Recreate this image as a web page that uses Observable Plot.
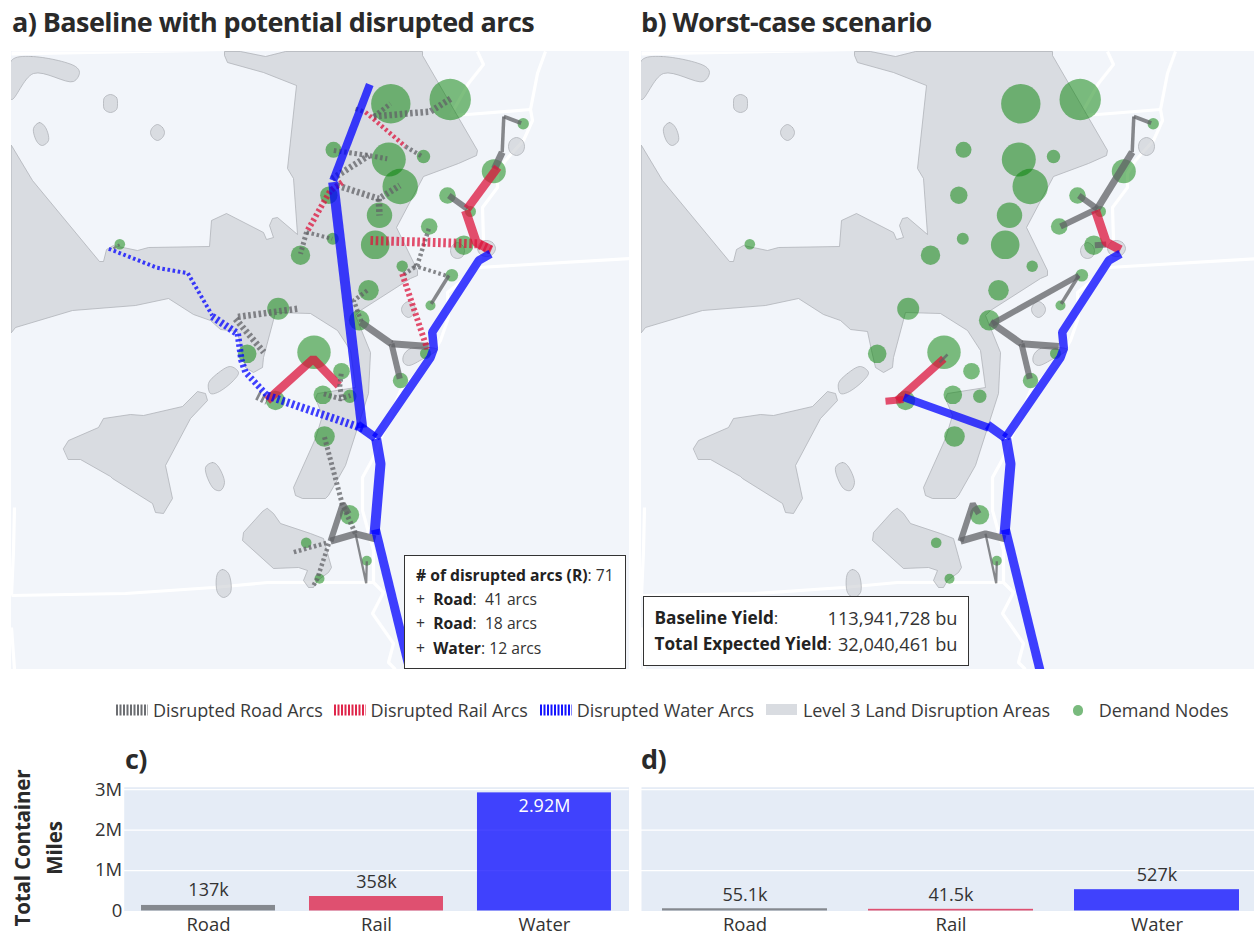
<!DOCTYPE html>
<html><head><meta charset="utf-8">
<script src="https://cdn.jsdelivr.net/npm/d3@7"></script>
<script src="https://cdn.jsdelivr.net/npm/@observablehq/plot@0.6"></script>
<style>
html,body{margin:0;padding:0;width:1254px;height:936px;overflow:hidden;background:#fff;font-family:"Open Sans",sans-serif;color:#2a2a2a}
.abs{position:absolute;white-space:nowrap}
.title{font-weight:700;font-size:27px;line-height:30px;letter-spacing:-.57px}
.leg{font-size:18px;line-height:20px;color:#3a3a3a;top:700px;letter-spacing:-.08px}
.box{background:#fff;border:1.4px solid #333;box-sizing:border-box}
.ln{position:absolute;font-size:15.7px;line-height:20px;white-space:nowrap;color:#333}
.ln b{color:#222}
.yl{font-weight:700;font-size:20.6px;line-height:24px;transform:translate(-50%,-50%) rotate(-90deg);letter-spacing:-.2px}
svg{display:block;max-width:none !important}
</style></head><body>
<script>
// ---------- map geometry (map units) ----------
const landMain=[[11,145],[32,180],[99,261],[103,261],[106,249],[113,245],[137,250],[148,247],[209,246],[211,220],[226,213],[263,232],[266,239],[273,237],[269,225],[272,218],[277,217],[297,234],[293,178],[287,168],[296,85],[263,72],[227,62],[224,55],[224,51],[240,51],[265,56],[285,51],[422,51],[422,55],[477,150],[476,155],[458,163],[423,176],[396,227],[417,270],[417,275],[410,278],[360,310],[355,315],[370,352],[368,393],[345,465],[328,495],[325,498],[302,498],[295,495],[293,487],[315,438],[322,415],[315,398],[317,393],[355,387],[350,350],[337,330],[310,313],[275,312],[263,357],[262,367],[253,372],[245,367],[241,350],[237,331],[220,329],[210,320],[193,314],[168,298],[135,305],[72,310],[15,327],[11,332]];
const landStripe=[[11,60],[31,56],[75,66],[79,72],[73,81],[33,73],[11,99]];
const landBay=[[63,448],[68,440],[98,427],[103,418],[130,414],[143,415],[182,406],[197,391],[205,393],[207,400],[190,418],[165,465],[172,498],[163,513],[155,512],[152,503],[112,478],[110,476],[80,459],[68,459]];
const landSouth=[[267,508],[273,513],[280,523],[310,533],[323,538],[331,567],[328,572],[317,580],[313,587],[308,587],[303,580],[307,570],[298,567],[273,568],[242,540],[243,532],[262,511]];
const landEast=[[403,355],[410,348],[437,349],[423,358],[408,365],[403,362]];
const lakes=[
 [[110,94],[116,97],[117,103],[116,109],[110,112],[104,109],[103,103],[104,97]],
 [[33,128],[39,122],[45,127],[48,140],[42,145],[37,142]],
 [[157,124],[162,127],[164,132],[162,137],[157,140],[152,137],[150,132],[152,127]],
 [[208,383],[217,373],[230,366],[238,372],[233,380],[217,392],[210,393]],
 [[205,467],[212,462],[217,465],[224,482],[220,490],[213,488]],
 [[217,573],[222,569],[228,573],[230,592],[223,597],[217,592]],
 [[516,137],[522,140],[524,146],[522,152],[516,155],[510,152],[508,146],[510,140]],
 [[457,242],[462,245],[464,250],[462,256],[457,258],[452,256],[450,250],[452,245]],
 [[486,240],[492,242],[495,248],[492,254],[486,256],[480,254],[477,248],[480,242]],
 [[408,301],[413,304],[415,309],[413,314],[408,317],[403,314],[401,309],[403,304]]
];
const borderLines=[
 [[477,51],[483,64],[468,83],[450,115]],
 [[450,115],[467,114],[530,109]],
 [[545,51],[537,73],[530,109],[532,120],[523,140],[505,160],[497,173],[497,187],[482,207],[483,240],[478,267]],
 [[478,267],[629,258]],
 [[478,267],[447,292],[448,317],[440,340],[430,357],[400,390],[373,457],[362,477],[362,510],[373,550],[373,582],[383,592],[372,613],[393,643],[388,662],[395,669]],
 [[11,595],[125,593],[213,587],[267,582],[373,582]],
 [[14,507],[13,550],[11,595]],
 [[11,627],[14,669]]
];
const topEdge=[[11,51],[224,51],[11,55]];
// ---------- demand nodes ----------
const nodeX=[390.3,449.7,522.7,493.3,333,388.3,423,399.7,328.3,447,470,379,428.7,332.3,374.7,463.3,401.7,451.3,430,368,358.7,425,119.3,300,277.7,246.7,313.5,275,341,322.3,349.3,324,400,349,366.3,319,305.7];
const nodeY=[103.3,99,123.3,170.7,149.3,159,156,186,194.7,195,211,214.7,226,238.3,244.3,244.7,265.7,274.7,305,289.7,319.7,353,243.7,254.7,308.3,353.3,351.7,400,370.7,394.3,395.7,436,380,514.3,560.3,578.3,542.3];
const nodeDemand=[19.7,20.7,5.7,12,8,17,6.7,17.7,8.7,8.3,5.5,12.7,8.3,6,14.3,9.7,5.7,6.3,5,10.3,10.3,5.5,5.3,9.7,11,9.3,16.7,9.7,8.3,9.3,6.7,10.3,7.7,9.7,5,5,5.3];
const nodes=nodeX.map((x,i)=>({x,y:nodeY[i],demand:nodeDemand[i]}));
// ---------- arcs: [mode, disrupted?, flow, path] ----------
const water5=["water",0,10,[[375.7,438.3],[380,463.3],[374,534]]];
const water6=["water",0,9,[[375,529],[411,676]]];
const water4=["water",0,8.5,[[375,437.3],[430,357],[433.3,348],[431.7,331.7],[478.3,260],[490,253.3]]];
const water3=["water",0,9,[[357,424.5],[375,437.3]]];
const road1=["road",0,4,[[503.3,116],[520.7,122.7]]];
const road2=["road",0,3.5,[[503.3,116],[501.7,151.7]]];
const road4=["road",0,6,[[448.3,195],[466.7,208.3]]];
const road5=["road",0,3.5,[[448.3,275],[430.7,303.3]]];
const road6=["road",0,7,[[360,321.7],[391,343.3]]];
const road7=["road",0,7,[[391,343.3],[428.3,346]]];
const road8=["road",0,6,[[391,343.3],[399.3,378.3]]];
const road9=["road",0,7,[[330,540.7],[355,533.3],[375,538.3]]];
const road10=["road",0,6,[[330,540.7],[342.3,503.3],[348.3,513.3]]];
const road11=["road",0,2.3,[[355,533.3],[365.7,582.7],[366.3,560.7]]];
const rail2=["rail",0,9,[[465,210],[475.7,241.7],[490,249.3]]];
const baselineArcs=[
 road1,road2,["road",0,7,[[501.7,151.7],[494,168.3]]],road4,road5,road6,road7,road8,road9,road10,road11,
 ["rail",0,8.5,[[497.3,166.7],[466.7,208.3]]],rail2,
 ["rail",0,8.5,[[266.7,400],[312.7,358.3],[338.3,385]]],
 ["road",1,4.5,[[355,108.3],[365,111.7]]],
 ["road",1,4.5,[[405,146],[421.7,156]]],
 ["road",1,5,[[373.3,116],[390,103.3]]],
 ["road",1,6.5,[[373.3,116],[430,111],[450,98.3]]],
 ["road",1,5,[[333.3,150],[368.3,155],[386.7,158.3]]],
 ["road",1,6.5,[[331.7,178.3],[368.3,155]]],
 ["road",1,6.5,[[336.7,185],[378.3,198.3],[399.3,185]]],
 ["road",1,6.5,[[378.3,198.3],[379,215]]],
 ["road",1,5,[[306,231.7],[300,253.3]]],
 ["road",1,4,[[306,231.7],[331.7,238.3]]],
 ["road",1,4.5,[[428.3,228.3],[416.7,265],[401.7,275]]],
 ["road",1,4,[[413,265],[448.3,276]]],
 ["road",1,4.5,[[366.7,290],[353.3,300],[361.7,323.3]]],
 ["road",1,6.5,[[296.7,308.3],[235,316.7]]],
 ["road",1,6.5,[[235,318.3],[263.3,351.7]]],
 ["road",1,2.5,[[113,248],[119,244]]],
 ["road",1,9,[[256.7,395],[266.7,400]]],
 ["road",1,5,[[340.7,373.3],[339.3,386],[341.7,400]]],
 ["road",1,5,[[323.3,393.3],[340,398.3],[350,395]]],
 ["road",1,5,[[324,436.7],[341.7,503.3],[355,533.3]]],
 ["road",1,4.5,[[328.3,543.3],[316.7,578.3],[313,585]]],
 ["road",1,4.5,[[293.3,551.7],[328.3,541.7]]],
 ["rail",1,4.5,[[365,111.7],[405,146]]],
 ["rail",1,6,[[341.7,181.7],[330,190],[306,231.7]]],
 ["rail",1,9,[[370,240],[476.7,243.3],[491.7,250]]],
 ["rail",1,6,[[401.7,273.3],[426.7,348.3]]],
 ["water",1,4,[[108.3,248.3],[156.7,267.3],[187.3,272.7],[211.7,315]]],
 ["water",1,7.5,[[211.7,316],[237.3,333.3]]],
 ["water",1,6.5,[[237.3,333.3],[241,360],[245,371.7],[266.7,395]]],
 ["water",1,8,[[266.7,395],[363.3,428.3]]],
 ["water",0,8,[[369.3,84],[332.7,180]]],
 ["water",0,10,[[332.7,181.7],[361.7,427.3]]],
 water3,water4,water5,water6
];
const worstArcs=[
 road1,road2,["road",0,7,[[501.7,151.7],[466.7,208.3]]],road4,
 ["road",0,6,[[430,226],[466.7,208.3]]],
 ["road",0,6,[[464.3,244.7],[475.7,244]]],
 ["road",0,6,[[448.3,275],[361.7,323.3]]],
 road5,road6,road7,road8,road9,road10,road11,
 rail2,
 ["rail",0,8,[[266.7,400],[313.3,358.3]]],
 ["rail",0,7,[[255,400.7],[273,399]]],
 ["road",0,2.5,[[309,362],[317,354]]],
 ["water",0,8,[[273.3,396.7],[358.3,427.3]]],
 water3,water4,water5,water6
];
const modeColor={road:"#606266",rail:"#dc143c",water:"#0000ff"};
// ---------- bars ----------
const modes=["Road","Rail","Water"];
const milesBaseline=[137000,358000,2920000];
const milesWorst=[55100,41500,527000];
const labelsBaseline=["137k","358k","2.92M"];
const labelsWorst=["55.1k","41.5k","527k"];
const barColor={Road:"#606266",Rail:"#dc143c",Water:"#0000ff"};
const yTicks=[0,1e6,2e6,3e6];
const yTickLabels=["0","1M","2M","3M"];

const ring=(pts,curve,extra={})=>Plot.line(pts,{x:d=>d[0],y:d=>d[1],curve,fill:"#c8cbd0",fillOpacity:.6,stroke:"#a9acb2",strokeOpacity:.7,strokeWidth:1,...extra});
function drawMap(arcs,left,width){
  const marks=[
    ...borderLines.map(l=>Plot.line(l,{x:d=>d[0],y:d=>d[1],stroke:"white",strokeWidth:3.2,strokeLinejoin:"miter",strokeLinecap:"butt"})),
    Plot.line(topEdge,{x:d=>d[0],y:d=>d[1],curve:"linear-closed",fill:"white",stroke:"none"}),
    ring(landMain,"linear-closed"),ring(landStripe,"catmull-rom-closed"),ring(landBay,"linear-closed"),ring(landSouth,"linear-closed"),ring(landEast,"catmull-rom-closed"),
    ...lakes.map(l=>ring(l,"catmull-rom-closed")),
    Plot.dot(nodes,{x:"x",y:"y",r:"demand",fill:"green",fillOpacity:.5,stroke:"none"}),
    ...arcs.map(([mode,dis,flow,path])=>Plot.line(path,{x:d=>d[0],y:d=>d[1],stroke:modeColor[mode],strokeOpacity:.75,strokeWidth:flow,strokeLinecap:"butt",strokeLinejoin:"miter",strokeDasharray:dis?"2.6,2.6":null}))
  ];
  const svg=Plot.plot({width,height:618,margin:0,
    x:{domain:[11,11+width],range:[0,width],axis:null},
    y:{domain:[51,669],range:[0,618],axis:null},
    r:{type:"identity"},
    style:{background:"#f2f5fa",overflow:"hidden"},
    marks});
  const w=document.createElement("div");w.className="abs";w.style.left=left+"px";w.style.top="51px";w.appendChild(svg);document.body.appendChild(w);
}
function drawBars(values,labels,left,width,marginLeft,rangeEnd,withAxis,offsets){
  const data=modes.map((m,i)=>({m,v:values[i],l:labels[i],dy:offsets[i]}));
  const svg=Plot.plot({width,height:166,marginTop:16.7,marginBottom:25.5,marginLeft,marginRight:0,
    x:{domain:modes,range:[marginLeft,rangeEnd],paddingInner:.2,paddingOuter:.1,label:null,axis:null},
    y:{domain:[0,3.06e6],label:null,axis:null},
    style:{background:"transparent",fontFamily:'"Open Sans",sans-serif',overflow:"hidden"},
    marks:[
      Plot.frame({fill:"#e5ecf6",stroke:null}),
      Plot.ruleY(yTicks.slice(1),{stroke:"white",strokeWidth:1.3}),
      Plot.barY(data,{x:"m",y:"v",fill:d=>barColor[d.m],fillOpacity:.72}),
      ...data.map(d=>Plot.text([d],{x:"m",y:"v",text:"l",dy:d.dy,fontSize:18,fill:d.dy>0?"white":"#333"})),
      Plot.axisX({tickSize:0,tickPadding:6.5,fontSize:18.5,fill:"#333",label:null,anchor:"bottom"}),
      withAxis?Plot.axisY({ticks:yTicks,tickFormat:v=>yTickLabels[yTicks.indexOf(v)],tickSize:0,tickPadding:2,fontSize:18.5,fill:"#333",label:null}):null
    ]});
  const w=document.createElement("div");w.className="abs";w.style.left=left+"px";w.style.top="770px";w.appendChild(svg);document.body.appendChild(w);
}
drawMap(baselineArcs,11,618);
drawMap(worstArcs,641,613);
drawBars(milesBaseline,labelsBaseline,0,628.7,123.7,628.7,true,[-15,-14,13]);
drawBars(milesWorst,labelsWorst,641,613,0,618,false,[-14,-14,-14]);
function add(html,cls,left,top,extra=""){const d=document.createElement("div");d.className="abs "+cls;d.style.cssText+=`left:${left}px;top:${top}px;${extra}`;d.innerHTML=html;document.body.appendChild(d);return d;}
add("a) Baseline with potential disrupted arcs","title",12,7);
add("b) Worst-case scenario","title",641,7);
add("c)","title",125,744);
add("d)","title",641,744);
add("Total Container","yl",22,848);
add("Miles","yl",54,848);
// legend
const sw=(color)=>`<svg width="32" height="14" style="display:block"><line x1="0" x2="32" y1="7" y2="7" stroke="${color}" stroke-opacity=".92" stroke-width="11" stroke-dasharray="2,1.5"/></svg>`;
add(sw("#606266"),"",115.5,703);add("Disrupted Road Arcs","leg",153,700);
add(sw("#dc143c"),"",333.5,703);add("Disrupted Rail Arcs","leg",370.6,700);
add(sw("#0000ff"),"",539.6,703);add("Disrupted Water Arcs","leg",576.7,700);
add("","",766,703.5,"width:31px;height:11px;background:#d9dce1");add("Level 3 Land Disruption Areas","leg",803,700);
add("","",1072.5,705,"width:10.5px;height:10.5px;border-radius:50%;background:#79ba7d");add("Demand Nodes","leg",1098.8,700);
// info boxes
add('<div class="ln" style="left:11px;top:9px"><b># of disrupted arcs (R)</b>: 71</div><div class="ln" style="left:11px;top:33px">+ &nbsp;<b>Road</b>:&nbsp; 41 arcs</div><div class="ln" style="left:11px;top:57px">+ &nbsp;<b>Road</b>:&nbsp; 18 arcs</div><div class="ln" style="left:11px;top:82px">+ &nbsp;<b>Water</b>: 12 arcs</div>',"box",404,555,"width:221.5px;height:113.5px");
add('<div class="ln" style="left:11px;top:11px;font-size:17.2px"><b>Baseline Yield</b>:</div><div class="ln" style="right:10px;top:11px;font-size:18.2px">113,941,728 bu</div><div class="ln" style="left:11px;top:37px;font-size:17.2px"><b>Total Expected Yield</b>:</div><div class="ln" style="right:10px;top:37px;font-size:18.2px">32,040,461 bu</div>',"box",642.5,595.5,"width:326px;height:70px");
</script>
</body></html>
